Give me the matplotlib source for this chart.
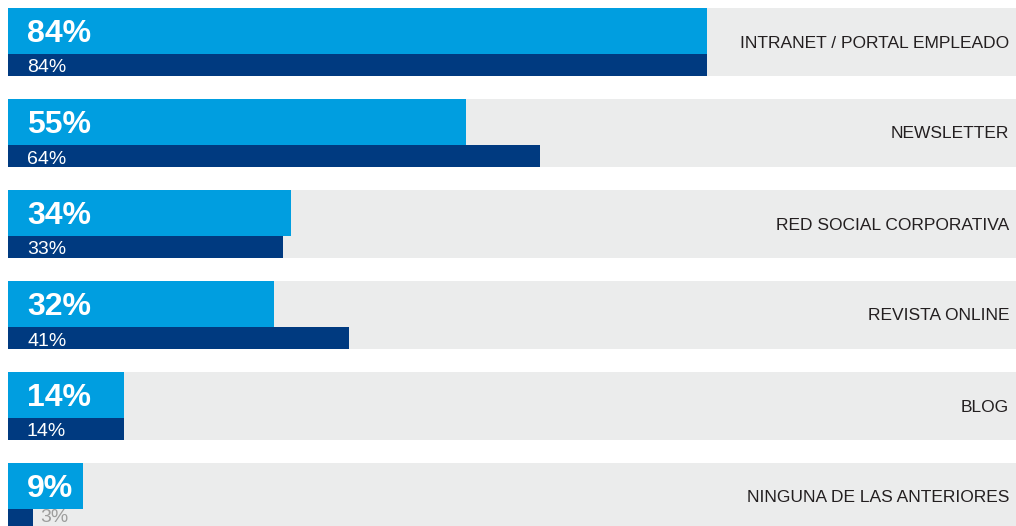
import matplotlib
matplotlib.use("Agg")
import matplotlib.pyplot as plt

categories = ["INTRANET / PORTAL EMPLEADO", "NEWSLETTER", "RED SOCIAL CORPORATIVA",
              "REVISTA ONLINE", "BLOG", "NINGUNA DE LAS ANTERIORES"]
top_vals = [84, 55, 34, 32, 14, 9]
bottom_vals = [84, 64, 33, 41, 14, 3]

light = "#009ee0"
dark = "#003a80"
band = "#ebecec"

W, H = 1016, 526
fig = plt.figure(figsize=(W / 100, H / 100), dpi=100)
ax = fig.add_axes([0, 0, 1, 1])

px = 8.32  # pixels per percent
x0 = -8 / px
xmax = (W - 8) / px
ax.set_xlim(x0, xmax)
ax.set_ylim(H, 0)
ax.axis("off")

pitch, h_top, h_bot = 91, 46, 22
for i, (cat, t, b) in enumerate(zip(categories, top_vals, bottom_vals)):
    y = 8 + pitch * i
    ax.barh(y, xmax, height=h_top + h_bot, left=0, align="edge", color=band, lw=0)
    ax.barh(y, t, height=h_top, left=0, align="edge", color=light, lw=0)
    ax.barh(y + h_top, b, height=h_bot, left=0, align="edge", color=dark, lw=0)
    ax.text(19 / px, y + h_top / 2 + 3, f"{t}%", color="white", fontsize=23,
            fontweight="bold", family="Liberation Sans", va="center", ha="left")
    yb = min(y + h_top + h_bot / 2 + 3, H - 9)
    if b * px > 45:
        ax.text(19 / px, yb, f"{b}%", color="white", fontsize=14,
                family="Liberation Sans", va="center", ha="left")
    else:
        ax.text(b + 7 / px, yb, f"{b}%", color="#9d9d9c", fontsize=14,
                family="Liberation Sans", va="center", ha="left")
    ax.text((1009 - 8) / px, y + (h_top + h_bot) / 2 + 1, cat, color="#231f20", fontsize=12.5,
            family="Liberation Sans", va="center", ha="right")

fig.savefig("out.png", dpi=100)
